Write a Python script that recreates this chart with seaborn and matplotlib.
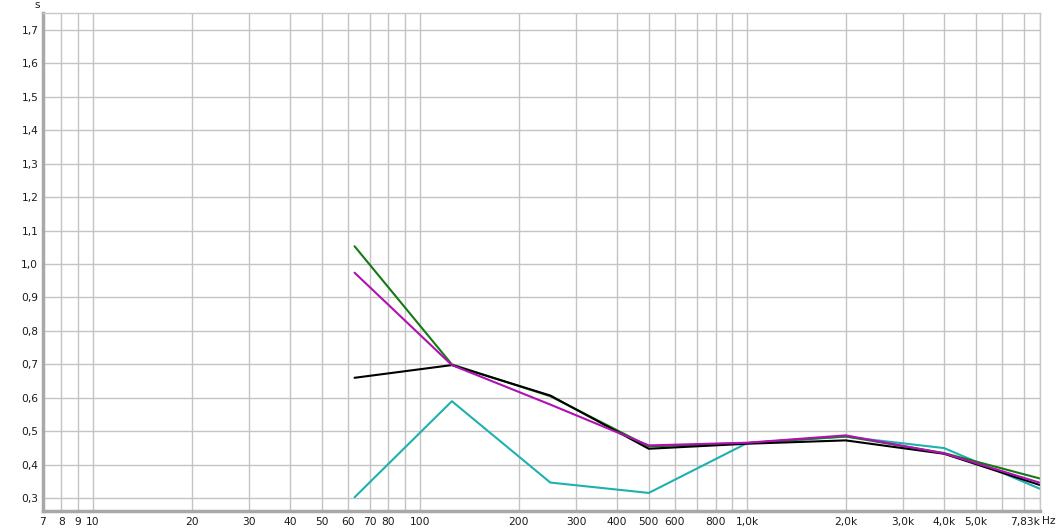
import numpy as np
import pandas as pd
import seaborn as sns
import matplotlib
matplotlib.use("Agg")
import matplotlib.pyplot as plt

# octave band centre frequencies (Hz) and reverberation times (s)
freqs = [63, 125, 250, 500, 1000, 2000, 4000, 8000]
cyan_rt = [0.303, 0.590, 0.347, 0.316, 0.465, 0.484, 0.450, 0.325]
green_rt = [1.053, 0.700, 0.605, 0.455, 0.465, 0.485, 0.435, 0.357]
black_rt = [0.660, 0.698, 0.607, 0.448, 0.463, 0.473, 0.433, 0.337]
magenta_rt = [0.974, 0.698, 0.580, 0.458, 0.466, 0.488, 0.434, 0.344]

series = ["cyan", "green", "black", "magenta"]
colors = ["#1fb0b0", "#137a13", "#000000", "#b011b0"]

xticks = [7, 8, 9, 10, 20, 30, 40, 50, 60, 70, 80, 100, 200, 300, 400, 500,
          600, 800, 1000, 2000, 3000, 4000, 5000, 7830]
xlabels = ["7", "8", "9", "10", "20", "30", "40", "50", "60", "70", "80", "100",
           "200", "300", "400", "500", "600", "800", "1,0k", "2,0k", "3,0k",
           "4,0k", "5,0k", "7,83k"]
yticks = [0.3, 0.4, 0.5, 0.6, 0.7, 0.8, 0.9, 1.0, 1.1, 1.2, 1.3, 1.4, 1.5, 1.6, 1.7]

df = pd.DataFrame({
    "freq": freqs * 4,
    "rt": cyan_rt + green_rt + black_rt + magenta_rt,
    "series": [s for s in series for _ in freqs],
})

sns.set_style("whitegrid")
plt.rcParams['font.family'] = ['DejaVu Sans']

fig = plt.figure(figsize=(10.61, 5.32), dpi=100)
ax = fig.add_axes([42.5 / 1061, 21 / 532, (1039.5 - 42.5) / 1061, (511 - 13) / 532])

sns.lineplot(data=df, x="freq", y="rt", hue="series", hue_order=series,
             palette=colors, linewidth=1.5, legend=False, ax=ax)

ax.set_xscale("log")
ax.set_xlim(7.1, 7830)
ax.set_ylim(0.262, 1.75)

# full log grid: 7..9, decades, hundreds, thousands
grid_x = [7, 8, 9, 10, 20, 30, 40, 50, 60, 70, 80, 90, 100, 200, 300, 400, 500,
          600, 700, 800, 900, 1000, 2000, 3000, 4000, 5000, 6000, 7000]
ax.set_xticks(grid_x, minor=True)
ax.set_xticks(xticks)
ax.set_xticklabels(xlabels, fontsize=7.7, color="#1a1a1a")
ax.set_yticks(yticks)
ax.set_yticklabels([f"{v:.1f}".replace(".", ",") for v in yticks],
                   fontsize=7.7, color="#1a1a1a")
ax.grid(True, which="both", color="#c4c4c4", linewidth=1.0)
ax.tick_params(axis="both", which="both", length=0, pad=3)
ax.tick_params(axis="x", pad=4)
ax.set_xlabel("")
ax.set_ylabel("")

for side in ["left", "bottom"]:
    ax.spines[side].set_color("#a8a8a8")
    ax.spines[side].set_linewidth(2.5)
for side in ["top", "right"]:
    ax.spines[side].set_color("#c8c8c8")
    ax.spines[side].set_linewidth(1.0)

last = ax.get_xticklabels()[-1]
last.set_ha("right")
fig.text(1042 / 1061, 1 - 521 / 532, "Hz", fontsize=7.7, color="#1a1a1a",
         ha="left", va="center")
fig.text(37 / 1061, 1 - 5 / 532, "s", fontsize=7.7, color="#1a1a1a",
         ha="center", va="center")

fig.savefig("out.png", dpi=100)
